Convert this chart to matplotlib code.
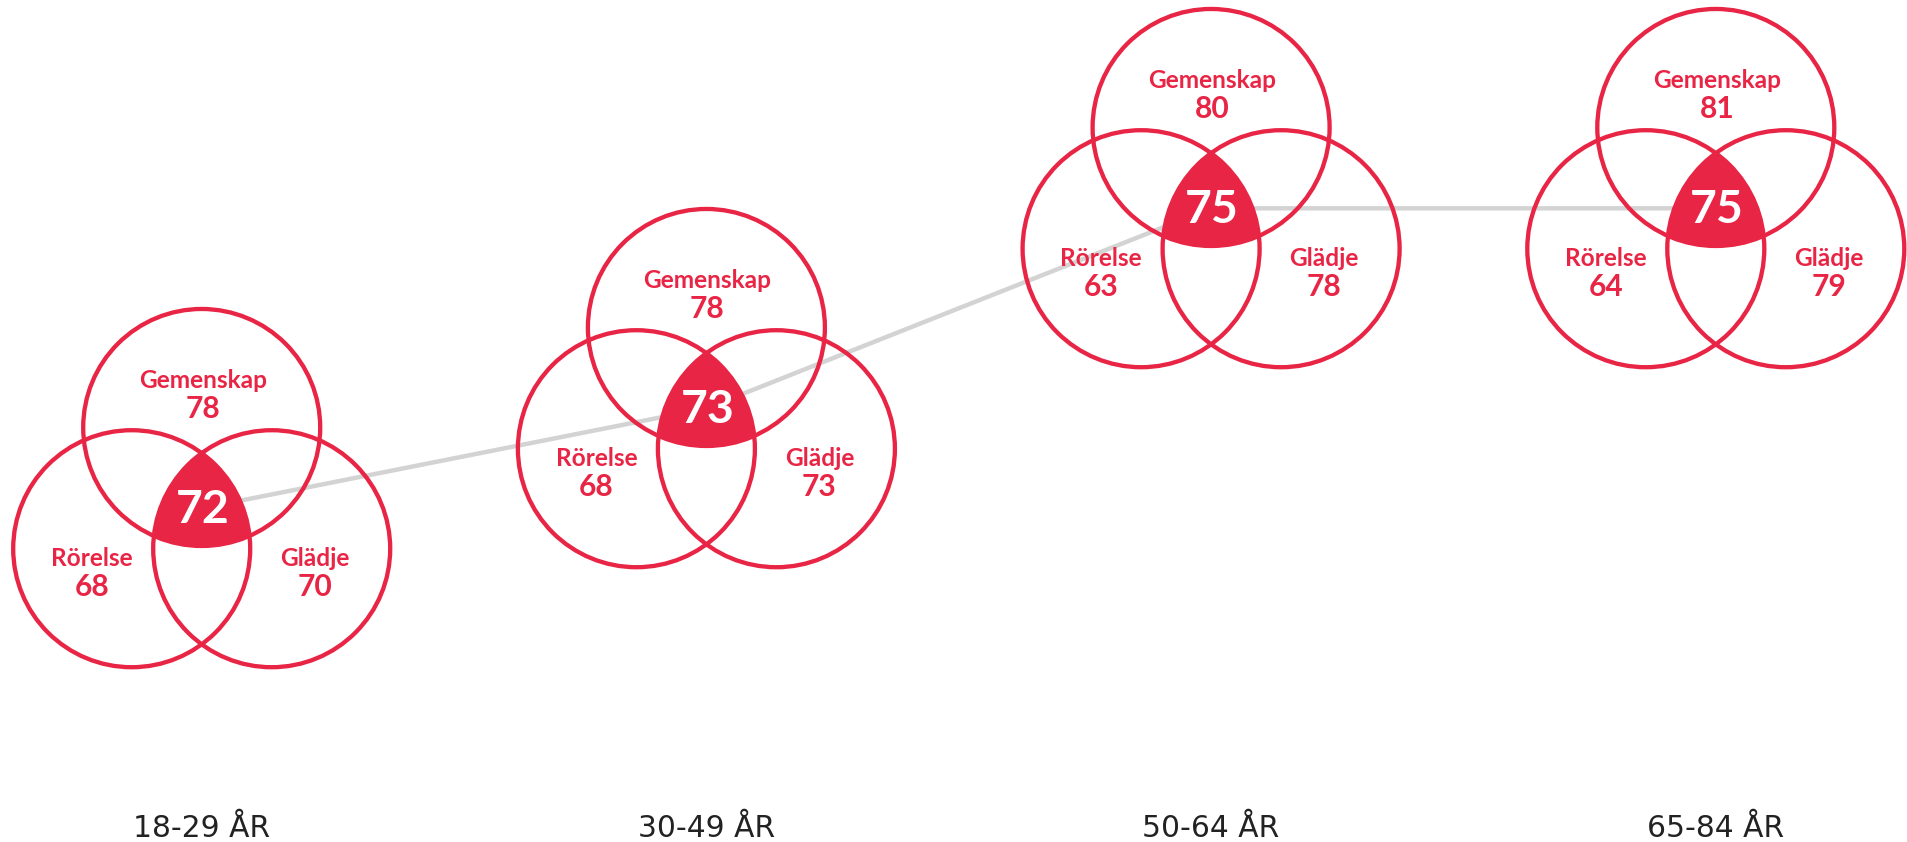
"""
Venn-diagram per åldersgrupp: Gemenskap, Rörelse, Glädje och
det samlade indexet i mitten. Grå linje binder ihop mittvärdena.
"""

import numpy as np
import matplotlib.pyplot as plt
from matplotlib.patches import Ellipse, Polygon

# Data
groups = ['18-29 ÅR', '30-49 ÅR', '50-64 ÅR', '65-84 ÅR']
center_vals = [72, 73, 75, 75]
gemenskap = [78, 78, 80, 81]
rorelse = [68, 68, 63, 64]
gladje = [70, 73, 78, 79]

# Utseende
RED = '#E82545'
GREY = '#D3D3D3'
TXT = '#222222'
R = 118.5                      # cirkelradie i pixlar
SIDE = 140.0                   # avstånd mellan cirkelcentra
PX_X = 504.7                   # pixlar per grupp
PX_Y = 100.0                   # pixlar per indexenhet
X0, Y0 = 201.7, 508.3          # pixelläge för första gruppens mitt
W, H = 1908, 842

plt.rcParams['font.family'] = ['Lato', 'DejaVu Sans']

fig = plt.figure(figsize=(W / 100, H / 100), dpi=100)
ax = fig.add_axes([0, 0, 1, 1])
ax.set_xlim(-X0 / PX_X, (W - X0) / PX_X)
ax.set_ylim(72 - (H - Y0) / PX_Y, 72 + Y0 / PX_Y)
ax.axis('off')

# cirkelcentra relativt gruppens mitt (pixlar, y uppåt)
circR = SIDE / np.sqrt(3)
offs = np.array([[0, circR],
                 [-SIDE / 2, -circR / 2],
                 [SIDE / 2, -circR / 2]])

# Grå linje genom mittvärdena
xs = np.arange(len(groups))
ax.plot(xs, center_vals, color=GREY, lw=3.2, solid_capstyle='butt', zorder=1)

# Snittytan för tre cirklar (beräknad i pixlar)
t = np.linspace(0, 2 * np.pi, 3000)
pts = []
for k in range(3):
    c = offs[k] + R * np.c_[np.cos(t), np.sin(t)]
    inside = np.ones(len(t), dtype=bool)
    for j in range(3):
        if j != k:
            inside &= np.hypot(*(c - offs[j]).T) <= R + 1e-6
    pts.append(c[inside])
pts = np.vstack(pts)
order = np.argsort(np.arctan2(pts[:, 1], pts[:, 0]))
lens = pts[order]

for i, v in enumerate(center_vals):
    for dx, dy in offs:
        ax.add_patch(Ellipse((i + dx / PX_X, v + dy / PX_Y), 2 * R / PX_X, 2 * R / PX_Y,
                             fill=False, ec=RED, lw=3.1, zorder=4))
    poly = np.c_[i + lens[:, 0] / PX_X, v + lens[:, 1] / PX_Y]
    ax.add_patch(Polygon(poly, closed=True, fc=RED, ec='none', zorder=3))

    def lab(s, dx, dy, size, color=RED, weight='bold'):
        ax.annotate(s, xy=(i, v), xytext=(dx, dy), textcoords='offset pixels',
                    ha='center', va='baseline', fontsize=size, color=color,
                    fontweight=weight, zorder=5)

    lab('Gemenskap', 1, 120.5, 17.6)
    lab(str(gemenskap[i]), 1, 90, 21.6)
    lab('Rörelse', -110, -58, 17.6)
    lab(str(rorelse[i]), -110, -87.5, 21.6)
    lab('Glädje', 113, -58, 17.6)
    lab(str(gladje[i]), 113, -87.5, 21.6)
    lab(str(v), 1, -14.5, 33.4, color='white')

    ax.text(i, 1 - 836.7 / H, groups[i], transform=ax.get_xaxis_transform(),
            ha='center', va='baseline', fontsize=21.4, color=TXT,
            family='DejaVu Sans')

fig.savefig('out.png', dpi=100)
